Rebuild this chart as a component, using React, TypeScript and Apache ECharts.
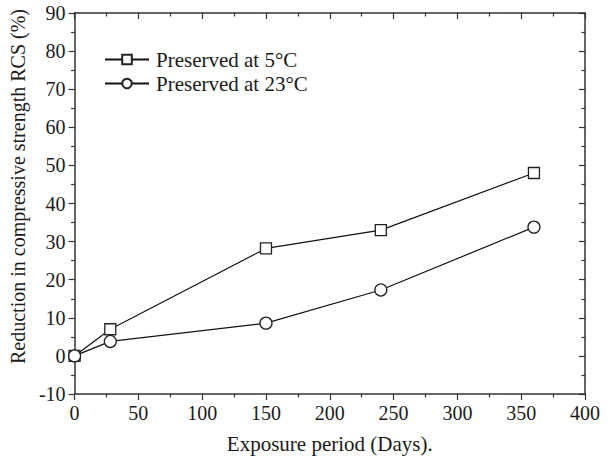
import React, { useEffect, useRef } from "react";
import * as echarts from "echarts";

const days = [0, 28, 150, 240, 360];
const preserved5C = [0, 7.0, 28.2, 33.0, 48.0];
const preserved23C = [0, 3.8, 8.6, 17.3, 33.8];
const seriesNames = ["Preserved at 5°C", "Preserved at 23°C"];
const xTitle = "Exposure period (Days).";
const yTitle = "Reduction in compressive strength RCS (%)";

const FONT = "'Liberation Serif', 'Times New Roman', serif";
const AXIS_COLOR = "#333";
const TEXT_COLOR = "#1a1a1a";

export default function App() {
  const ref = useRef<HTMLDivElement>(null);
  useEffect(() => {
    if (!ref.current) return;
    const chart = echarts.init(ref.current, undefined, { renderer: "svg" });
    const axisLine = { show: true, onZero: false, lineStyle: { color: AXIS_COLOR, width: 1.5 } };
    const tickIn = { show: true, inside: true, length: 6, lineStyle: { color: AXIS_COLOR, width: 1.2 } };
    const tickOut = { ...tickIn, inside: false };
    const minor = { show: true, splitNumber: 2, length: 3.5, lineStyle: { color: AXIS_COLOR, width: 1.2 } };
    const label = { fontFamily: FONT, fontSize: 20, color: TEXT_COLOR };
    chart.setOption({
      animation: false,
      backgroundColor: "#fff",
      grid: { left: 74, right: 26, top: 13, bottom: 65, containLabel: false },
      legend: {
        orient: "vertical",
        left: 99,
        top: 44,
        itemWidth: 44,
        itemHeight: 12,
        itemGap: 3,
        textStyle: { fontFamily: FONT, fontSize: 21, color: TEXT_COLOR, padding: [0, 0, 0, 2] },
        data: seriesNames,
      },
      xAxis: [
        {
          type: "value",
          min: 0,
          max: 400,
          interval: 50,
          position: "bottom",
          axisLine,
          axisTick: tickOut,
          minorTick: minor,
          splitLine: { show: false },
          axisLabel: { ...label, margin: 9 },
          name: xTitle,
          nameLocation: "middle",
          nameGap: 39,
          nameTextStyle: { ...label, fontSize: 21 },
        },
        {
          type: "value",
          min: 0,
          max: 400,
          interval: 50,
          position: "top",
          axisLine,
          axisTick: tickIn,
          minorTick: minor,
          splitLine: { show: false },
          axisLabel: { show: false },
        },
      ],
      yAxis: [
        {
          type: "value",
          min: -10,
          max: 90,
          interval: 10,
          position: "left",
          axisLine,
          axisTick: tickOut,
          minorTick: minor,
          splitLine: { show: false },
          axisLabel: { ...label, margin: 9 },
          name: yTitle,
          nameLocation: "middle",
          nameGap: 45,
          nameTextStyle: { ...label, fontSize: 20, padding: [0, 0, 0, 34] },
        },
        {
          type: "value",
          min: -10,
          max: 90,
          interval: 10,
          position: "right",
          axisLine,
          axisTick: tickIn,
          minorTick: minor,
          splitLine: { show: false },
          axisLabel: { show: false },
        },
      ],
      series: [
        {
          name: seriesNames[0],
          type: "line",
          xAxisIndex: 0,
          yAxisIndex: 0,
          data: days.map((d, i) => [d, preserved5C[i]]),
          symbol: "rect",
          symbolSize: 11,
          showAllSymbol: true,
          lineStyle: { color: "#111", width: 1.2 },
          itemStyle: { color: "#fff", borderColor: "#222", borderWidth: 1.3 },
          clip: true,
        },
        {
          name: seriesNames[1],
          type: "line",
          xAxisIndex: 0,
          yAxisIndex: 0,
          data: days.map((d, i) => [d, preserved23C[i]]),
          symbol: "circle",
          symbolSize: 12,
          showAllSymbol: true,
          lineStyle: { color: "#111", width: 1.2 },
          itemStyle: { color: "#fff", borderColor: "#222", borderWidth: 1.3 },
          clip: true,
        },
      ],
    });
    return () => chart.dispose();
  }, []);
  return <div ref={ref} style={{ width: 611, height: 459, position: "absolute", left: 0, top: 0 }} />;
}
